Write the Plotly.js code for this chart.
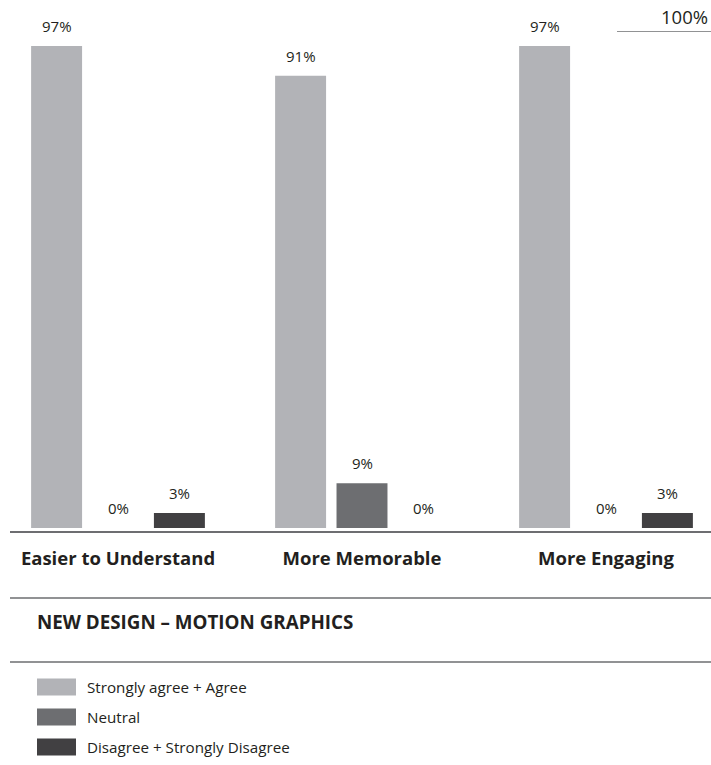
<!DOCTYPE html>
<html>
<head>
<meta charset="utf-8">
<script src="https://cdn.plot.ly/plotly-3.0.1.min.js"></script>
<style>html,body{margin:0;padding:0;background:#fff;}#chart{width:711px;height:765px;}</style>
</head>
<body>
<div id="chart"></div>
<script>
// ---- data ----
var categories = ["Easier to Understand", "More Memorable", "More Engaging"];
var seriesNames = ["Strongly agree + Agree", "Neutral", "Disagree + Strongly Disagree"];
var agreeValues = [97, 91, 97];
var neutralValues = [0, 9, 0];
var disagreeValues = [3, 0, 3];
var chartTitle = "NEW DESIGN \u2013 MOTION GRAPHICS";
var maxLabel = "100%";
var maxValue = 100;

// ---- styling ----
var colors = ["#b2b3b7", "#6d6e71", "#414042"];
var textColor = "#231f20";
var lineColor = "#6d6e71";
var FONT = "Open Sans, sans-serif";
var W = 711, H = 765, T = 31, B = 237;
var plotH = H - T - B;
var bargap = 0.245, bargroupgap = 0.17;

function py(p) { return (H - B - p) / plotH; }
function pxx(p) { return p / W; }

var allValues = [agreeValues, neutralValues, disagreeValues];
var traces = allValues.map(function (vals, j) {
  return {
    type: "bar",
    name: seriesNames[j],
    x: categories,
    y: vals,
    marker: {color: colors[j], line: {width: 0}},
    hoverinfo: "none",
    showlegend: false
  };
});

var annotations = [];
var slot = (1 - bargap) / allValues.length;
allValues.forEach(function (vals, j) {
  vals.forEach(function (v, i) {
    annotations.push({
      x: i + (j - (allValues.length - 1) / 2) * slot,
      y: v, xref: "x", yref: "y",
      text: v + "%", showarrow: false,
      xanchor: "center", yanchor: "bottom", yshift: 8,
      font: {family: FONT, size: 15, color: textColor}
    });
  });
});
annotations.push({
  x: pxx(710), y: maxValue, xref: "paper", yref: "y",
  text: maxLabel, showarrow: false, xanchor: "right", yanchor: "bottom", yshift: 0,
  font: {family: FONT, size: 18.5, color: textColor}
});
annotations.push({
  x: pxx(35), y: py(622), xref: "paper", yref: "paper",
  text: "<b>" + chartTitle + "</b>", showarrow: false, xanchor: "left", yanchor: "middle",
  font: {family: FONT, size: 18.8, color: textColor}
});

var shapes = [
  {type: "line", xref: "paper", yref: "paper", x0: pxx(10), x1: 1, y0: py(532), y1: py(532), line: {color: lineColor, width: 2}},
  {type: "line", xref: "paper", yref: "paper", x0: pxx(10), x1: 1, y0: py(598), y1: py(598), line: {color: lineColor, width: 1.5}},
  {type: "line", xref: "paper", yref: "paper", x0: pxx(10), x1: 1, y0: py(662), y1: py(662), line: {color: lineColor, width: 1.5}},
  {type: "line", xref: "paper", yref: "y", x0: pxx(617), x1: 1, y0: maxValue, y1: maxValue, line: {color: lineColor, width: 1.5}}
];

// manual legend
seriesNames.forEach(function (name, j) {
  var cy = 687 + j * 30;
  shapes.push({type: "rect", xref: "paper", yref: "paper",
    x0: pxx(37), x1: pxx(76), y0: py(cy - 8.5), y1: py(cy + 8.5),
    fillcolor: colors[j], line: {width: 0}});
  annotations.push({x: pxx(85), y: py(cy), xref: "paper", yref: "paper",
    text: name, showarrow: false, xanchor: "left", yanchor: "middle",
    font: {family: FONT, size: 15.2, color: textColor}});
});

var catW = 244, c0 = 118;
var layout = {
  width: W, height: H,
  margin: {l: 0, r: 0, t: T, b: B, pad: 0},
  paper_bgcolor: "#ffffff", plot_bgcolor: "#ffffff",
  barmode: "group", bargap: bargap, bargroupgap: bargroupgap,
  xaxis: {
    type: "category",
    range: [-c0 / catW, (W - c0) / catW],
    showgrid: false, zeroline: false, showline: false, ticks: "",
    tickfont: {family: FONT, size: 18.5, color: textColor, weight: "bold"},
    ticklabelstandoff: 17,
    fixedrange: true
  },
  yaxis: {range: [0, maxValue], visible: false, fixedrange: true},
  showlegend: false,
  annotations: annotations,
  shapes: shapes
};

Plotly.newPlot("chart", traces, layout, {displayModeBar: false, staticPlot: true});
</script>
</body>
</html>
